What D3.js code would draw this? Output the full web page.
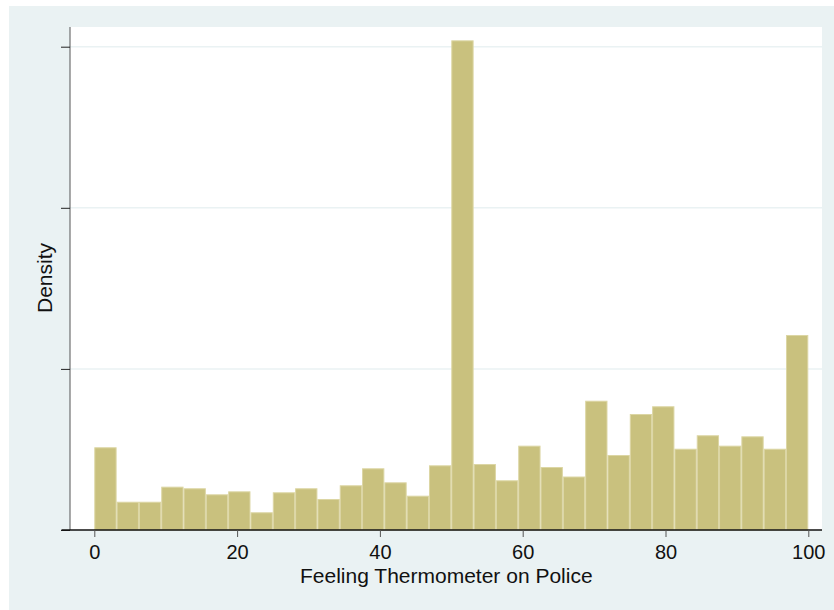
<!DOCTYPE html>
<html>
<head>
<meta charset="utf-8">
<script src="https://cdn.jsdelivr.net/npm/d3@7"></script>
<style>
  body { margin: 0; background: #ffffff; }
  svg { display: block; font-family: "Liberation Sans", Arial, Helvetica, sans-serif; }
</style>
</head>
<body>
<div id="graphic"></div>
<script>
// histogram: 32 bins of width 3.125 on [0, 100]
const binStart = 0;
const binWidth = 3.125;
const densities = [
  0.01027, 0.00351, 0.00351, 0.00538, 0.00518, 0.00443, 0.00480, 0.00220,
  0.00468, 0.00518, 0.00385, 0.00555, 0.00766, 0.00592, 0.00426, 0.00803,
  0.06079, 0.00819, 0.00617, 0.01047, 0.00782, 0.00664, 0.01605, 0.00931,
  0.01440, 0.01536, 0.01009, 0.01176, 0.01047, 0.01163, 0.01009, 0.02421
];
const xTicks = [0, 20, 40, 60, 80, 100];
const yTicks = [0, 0.02, 0.04, 0.06];
const xTitle = 'Feeling Thermometer on Police';
const yTitle = 'Density';

const width = 834;
const height = 610;
const plot = { left: 70, right: 822, top: 27, bottom: 530 };

const svg = d3.select('#graphic').append('svg')
  .attr('width', width)
  .attr('height', height);

// outer panel
svg.append('rect')
  .attr('x', 9).attr('y', 6)
  .attr('width', width - 9).attr('height', height - 6)
  .attr('fill', '#eaf2f3');

// plot region
svg.append('rect')
  .attr('x', plot.left).attr('y', plot.top)
  .attr('width', plot.right - plot.left).attr('height', plot.bottom - plot.top)
  .attr('fill', '#ffffff');

const x = d3.scaleLinear()
  .domain([0, 100])
  .range([94.3, 808.3]);

const y = d3.scaleLinear()
  .domain([0, 0.06])
  .range([plot.bottom, 46.7]);

// gridlines
svg.selectAll('.grid')
  .data(yTicks.filter(d => d > 0))
  .enter().append('line')
  .attr('class', 'grid')
  .attr('x1', plot.left).attr('x2', plot.right)
  .attr('y1', d => y(d)).attr('y2', d => y(d))
  .attr('stroke', '#eaf2f3')
  .attr('stroke-width', 1.5);

// bars
svg.selectAll('.bar')
  .data(densities)
  .enter().append('rect')
  .attr('class', 'bar')
  .attr('x', (d, i) => x(binStart + i * binWidth) + 0.5)
  .attr('y', d => y(d) + 0.5)
  .attr('width', (d, i) => x(binStart + (i + 1) * binWidth) - x(binStart + i * binWidth) - 1)
  .attr('height', d => y(0) - y(d) - 0.5)
  .attr('fill', '#c9c17e')
  .attr('stroke', '#dcd6a4')
  .attr('stroke-width', 1);

// y axis
const yAxis = d3.axisLeft(y)
  .tickValues(yTicks)
  .tickSize(9)
  .tickFormat('');
const gy = svg.append('g')
  .attr('transform', 'translate(' + plot.left + ',0)')
  .call(yAxis);
gy.select('.domain')
  .attr('d', 'M0,' + plot.top + 'V' + plot.bottom)
  .attr('stroke', '#555555');
gy.selectAll('.tick line').attr('stroke', '#222222');

// x axis
const xAxis = d3.axisBottom(x)
  .tickValues(xTicks)
  .tickSize(7)
  .tickPadding(8)
  .tickFormat(d3.format('d'));
const gx = svg.append('g')
  .attr('transform', 'translate(0,' + plot.bottom + ')')
  .call(xAxis);
gx.select('.domain')
  .attr('d', 'M61.5,0H' + plot.right)
  .attr('stroke', '#111111')
  .attr('stroke-width', 1.5);
gx.selectAll('.tick line').attr('stroke', '#555555');
gx.selectAll('.tick text')
  .attr('font-size', 20)
  .attr('font-family', '"Liberation Sans", Arial, sans-serif')
  .attr('fill', '#111111');

// titles
svg.append('text')
  .attr('x', (x(0) + x(100)) / 2 - 5)
  .attr('y', 583)
  .attr('text-anchor', 'middle')
  .attr('font-size', 21)
  .attr('fill', '#111111')
  .text(xTitle);

svg.append('text')
  .attr('transform', 'translate(52,278) rotate(-90)')
  .attr('text-anchor', 'middle')
  .attr('font-size', 21)
  .attr('fill', '#111111')
  .text(yTitle);
</script>
</body>
</html>
